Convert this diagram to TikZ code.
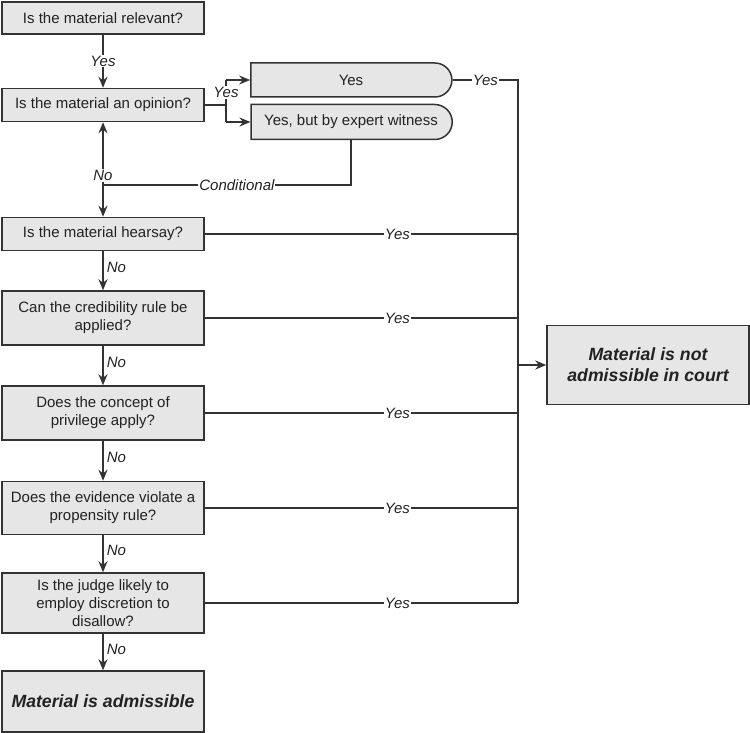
\documentclass[tikz,border=0pt]{standalone}
\usepackage{fontspec}
\setmainfont{Liberation Sans}
\usetikzlibrary{arrows.meta,positioning,shapes.misc}
\definecolor{evfill}{HTML}{E6E6E6}
\definecolor{evedge}{HTML}{333333}
\definecolor{evtext}{HTML}{222222}
\tikzstyle{evbox}=[draw=evedge,fill=evfill,text=evtext,line width=1.5pt,
  minimum width=202pt,align=center,inner sep=2pt,font=\fontsize{15}{18}\selectfont]
\tikzstyle{evend}=[evbox,font=\fontsize{17.7}{21}\selectfont\bfseries\itshape]
\tikzstyle{evround}=[evbox,rounded rectangle,rounded rectangle left arc=none,minimum width=205pt]
\tikzstyle{evwire}=[draw=evedge,line width=1.6pt]
\tikzstyle{evarr}=[evwire,-{Stealth[length=11pt,width=9pt]}]
\tikzstyle{evlbl}=[font=\fontsize{15}{18}\selectfont\itshape,text=evtext,inner sep=1pt]

\begin{document}
\begin{tikzpicture}[x=1pt,y=-1pt]
    \useasboundingbox (0,0) rectangle (750,733);
    % question column
    \node[evbox,minimum height=32pt] (rel) at (103,18) {Is the material relevant?};
    \node[evbox,minimum height=33pt] (opin) at (103,105) {Is the material an opinion?};
    \node[evbox,minimum height=33pt] (hear) at (103,234) {Is the material hearsay?};
    \node[evbox,minimum height=54pt] (cred) at (103,318) {Can the credibility rule be\\applied?};
    \node[evbox,minimum height=54pt] (priv) at (103,413) {Does the concept of\\privilege apply?};
    \node[evbox,minimum height=53pt] (prop) at (103,508) {Does the evidence violate a\\propensity rule?};
    \node[evbox,minimum height=60pt] (judge) at (103,603) {Is the judge likely to\\employ discretion to\\disallow?};
    \node[evend,minimum height=61pt] (adm) at (103,701.5) {Material is admissible};
    % opinion answers
    \node[evround,minimum height=34pt] (yesbox) at (351,80) {Yes};
    \node[evround,minimum height=35pt] (expert) at (351,122) {Yes, but by expert witness};
    \node[evend,minimum height=79pt] (notadm) at (648,365) {Material is not\\admissible in court};
    \coordinate (fork) at (226,0);
    \coordinate (bus) at (518,0);
    \coordinate (jn) at (103,185);

    \draw[evarr] (rel) -- node[evlbl,fill=white]{Yes} (opin);
    \draw[evwire] (opin.east) -- (opin.east -| fork);
    \draw[evarr] (fork |- yesbox.west) -- (yesbox.west);
    \draw[evarr] (fork |- expert.west) -- (expert.west);
    \draw[evwire] (fork |- expert.west) -- (fork |- opin.east) -- node[evlbl,fill=white]{Yes} (fork |- yesbox.west);
    \draw[evwire] (expert.south) |- node[evlbl,fill=white,pos=0.73]{Conditional} (jn);
    \draw[evarr] (jn) -- node[evlbl,fill=white,pos=0.15]{No} (opin);
    \draw[evarr] (jn) -- (hear);
    \foreach \a/\b in {hear/cred,cred/priv,priv/prop,prop/judge,judge/adm}
      {\draw[evarr] (\a) -- node[evlbl,right,pos=0.42,xshift=2pt]{No} (\b);}
    % right-hand bus
    \draw[evwire] (yesbox.east) -- node[evlbl,fill=white]{Yes} (yesbox.east -| bus) -- (judge.east -| bus);
    \foreach \q in {hear,cred,priv,prop,judge}
      {\draw[evwire] (\q.east) -- node[evlbl,fill=white,pos=0.615]{Yes} (\q.east -| bus);}
    \draw[evarr] (bus |- notadm.west) -- (notadm.west);
  \end{tikzpicture}
\end{document}
